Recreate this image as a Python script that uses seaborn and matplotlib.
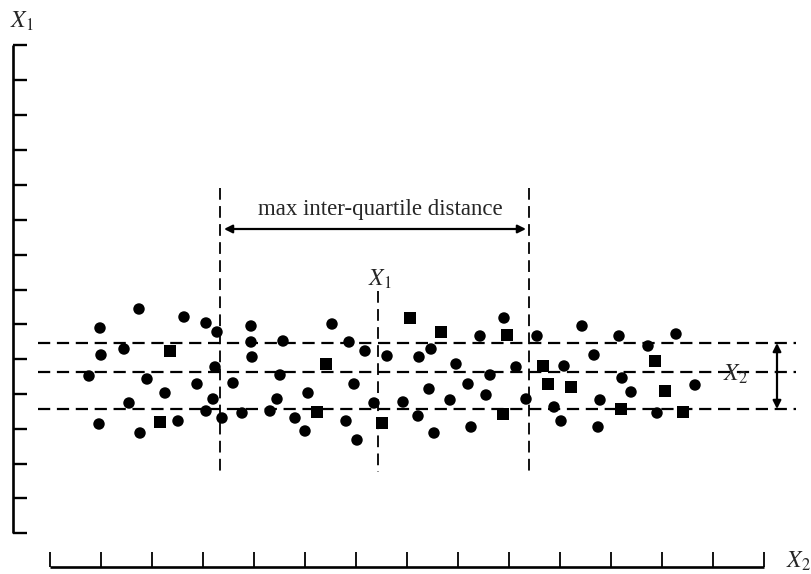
import matplotlib
matplotlib.use("Agg")
import matplotlib.pyplot as plt
import seaborn as sns
import pandas as pd

# ---- data (in drawing units of the schematic) ----
pts_x = [100, 139, 184, 206, 217, 251, 101, 124, 170, 251, 283, 252, 89, 147, 215, 233, 280,
         165, 197, 129, 213, 277, 308, 206, 222, 242, 270, 99, 140, 160, 178, 295, 305,
         332, 410, 441, 480, 504, 507, 537, 349, 365, 387, 419, 431, 326, 456, 490, 516, 543,
         354, 429, 468, 486, 548, 374, 403, 450, 526, 317, 418, 503, 346, 382, 357, 434, 471,
         582, 619, 676, 594, 648, 655, 564, 571, 622, 631, 665, 695, 600, 554, 621, 657, 683,
         561, 598]
pts_y = [328, 309, 317, 323, 332, 326, 355, 349, 351, 342, 341, 357, 376, 379, 367, 383, 375,
         393, 384, 403, 399, 399, 393, 411, 418, 413, 411, 424, 433, 422, 421, 418, 431,
         324, 318, 332, 336, 318, 335, 336, 342, 351, 356, 357, 349, 364, 364, 375, 367, 366,
         384, 389, 384, 395, 384, 403, 402, 400, 399, 412, 416, 414, 421, 423, 440, 433, 427,
         326, 336, 334, 355, 346, 361, 366, 387, 378, 392, 391, 385, 400, 407, 409, 413, 412,
         421, 427]
square_idx = [8, 29, 34, 35, 38, 45, 49, 54, 59, 61, 63, 72, 74, 77, 81, 83]
kind = ["square" if i in square_idx else "circle" for i in range(len(pts_x))]

quartile_y = [343, 372, 409]
split_x = [220, 529]
center_x = [378]
left_ticks = [45, 80, 115, 150, 185, 220, 255, 290, 324, 359, 394, 429, 464, 498, 533]
bottom_ticks = [50, 101, 152, 203, 254, 305, 356, 407, 458, 509, 560, 611, 662, 713, 764]

df = pd.DataFrame({"x": pts_x, "y": pts_y, "kind": kind})

sns.set_style("white")
plt.rcParams["mathtext.fontset"] = "stix"
plt.rcParams["font.family"] = ["Liberation Serif", "DejaVu Serif"]

fig = plt.figure(figsize=(8.11, 5.74), dpi=100)
ax = fig.add_axes([0, 0, 1, 1])
ax.set_xlim(0, 811)
ax.set_ylim(574, 0)
ax.axis("off")

sns.scatterplot(data=df, x="x", y="y", style="kind",
                markers={"circle": "o", "square": "s"},
                color="black", s=68, edgecolor="black", linewidth=0,
                legend=False, ax=ax)

# left axis
ax.plot([13, 13], [left_ticks[0], left_ticks[-1]], color="black", lw=1.9, solid_capstyle="butt")
for t in left_ticks:
    ax.plot([13, 27], [t, t], color="black", lw=1.7, solid_capstyle="butt")
# bottom axis
ax.plot([bottom_ticks[0], bottom_ticks[-1]], [567, 567], color="black", lw=1.9, solid_capstyle="butt")
for t in bottom_ticks:
    ax.plot([t, t], [552, 567], color="black", lw=1.3, solid_capstyle="butt")

# quartile dashed lines
for qy in quartile_y:
    ax.plot([38, 796], [qy, qy], color="black", lw=1.6, linestyle=(0, (5.5, 3)))
for sx in split_x:
    ax.plot([sx, sx], [188, 471], color="black", lw=1.3, linestyle=(0, (6.5, 3.5)))
for cx in center_x:
    ax.plot([cx, cx], [291, 472], color="black", lw=1.3, linestyle=(0, (6.5, 3.5)))

# arrows
ax.annotate("", xy=(224, 229), xytext=(526, 229),
            arrowprops=dict(arrowstyle="<|-|>", color="black", lw=1.6,
                            mutation_scale=12, shrinkA=0, shrinkB=0))
ax.annotate("", xy=(777, quartile_y[0]), xytext=(777, quartile_y[2]),
            arrowprops=dict(arrowstyle="<|-|>", color="black", lw=1.6,
                            mutation_scale=12, shrinkA=0, shrinkB=0))

# texts
ax.text(380, 210, "max inter-quartile distance", ha="center", va="center", fontsize=16.5)
ax.text(380, 279, r"$X_1$", ha="center", va="center", fontsize=17)
ax.text(22, 21, r"$X_1$", ha="center", va="center", fontsize=17)
ax.text(798, 561, r"$X_2$", ha="center", va="center", fontsize=17)
ax.text(735, 374, r"$X_2$", ha="center", va="center", fontsize=17)

fig.savefig("out.png", dpi=100)
